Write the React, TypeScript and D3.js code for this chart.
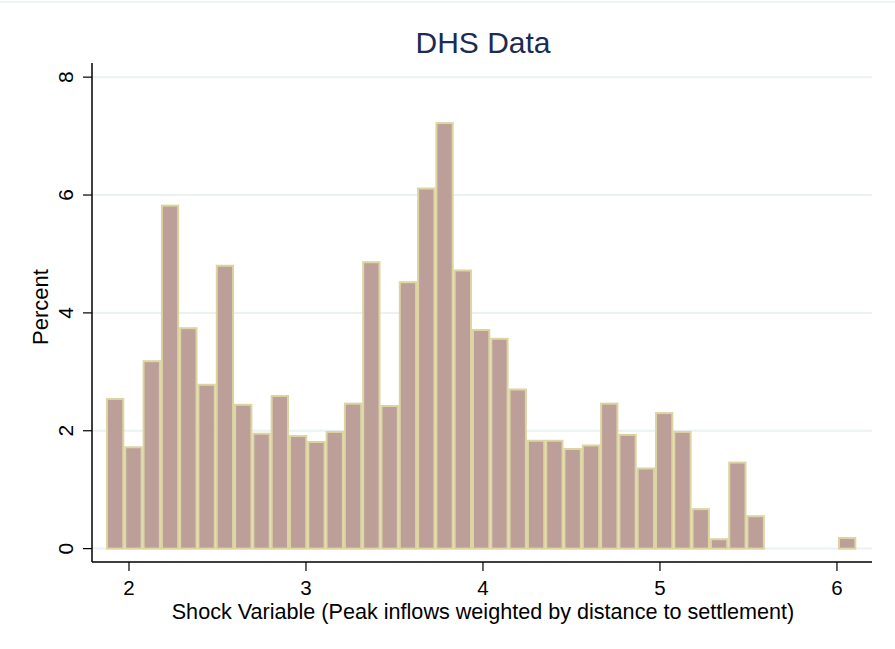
import React from "react";
import * as d3 from "d3";

// ---- Data ----
const title = "DHS Data";
const xTitle = "Shock Variable (Peak inflows weighted by distance to settlement)";
const yTitle = "Percent";
const binStart = 1.87;
const binWidth = 0.1034;
const percents = [
  2.54, 1.72, 3.18, 5.82, 3.74, 2.78, 4.8, 2.44, 1.95, 2.59,
  1.91, 1.81, 1.98, 2.46, 4.86, 2.42, 4.52, 6.11, 7.22, 4.72,
  3.71, 3.56, 2.7, 1.83, 1.83, 1.69, 1.75, 2.46, 1.93, 1.36,
  2.3, 1.98, 0.67, 0.16, 1.46, 0.55, 0, 0, 0, 0,
  0.18,
];
const xTicks = [2, 3, 4, 5, 6];
const yTicks = [0, 2, 4, 6, 8];

const W = 895;
const H = 649;
const FONT = "'Liberation Sans', Arial, Helvetica, sans-serif";

export default function App() {
  const left = 92, right = 872, top = 63, bottom = 562;
  const x = d3.scaleLinear().domain([1.791, 6.198]).range([left, right]);
  const y = d3.scaleLinear().domain([-0.227, 8.24]).range([bottom, top]);

  const bins = percents.map((p, i) => ({
    x0: binStart + i * binWidth,
    x1: binStart + (i + 1) * binWidth,
    p,
  }));

  return (
    <svg
      width={W}
      height={H}
      viewBox={`0 0 ${W} ${H}`}
      style={{ position: "absolute", left: 0, top: 0, background: "#ffffff" }}
      fontFamily={FONT}
    >
      <rect x={0} y={0} width={W} height={H} fill="#ffffff" />
      <line x1={0} x2={W} y1={2} y2={2} stroke="#eef3f4" strokeWidth={2} />

      {/* gridlines */}
      {yTicks.map((t) => (
        <line
          key={"g" + t}
          x1={left}
          x2={right}
          y1={y(t)}
          y2={y(t)}
          stroke="#eaf2f3"
          strokeWidth={2}
        />
      ))}

      {/* bars */}
      {bins
        .filter((b) => b.p > 0)
        .map((b, i) => {
          const x0 = x(b.x0);
          const x1 = x(b.x1);
          const yt = y(b.p);
          const yb = y(0);
          return (
            <rect
              key={"b" + i}
              x={x0 + 1}
              y={yt}
              width={x1 - x0 - 2}
              height={yb - yt}
              fill="#bd9f99"
              stroke="#dcd5a1"
              strokeWidth={2}
            />
          );
        })}

      {/* y axis */}
      <line x1={left} x2={left} y1={top} y2={bottom} stroke="#000" strokeWidth={1.5} />
      {yTicks.map((t) => (
        <g key={"yt" + t}>
          <line x1={left - 9} x2={left} y1={y(t)} y2={y(t)} stroke="#000" strokeWidth={1.2} />
          <text
            transform={`translate(73,${y(t)}) rotate(-90)`}
            textAnchor="middle"
            fontSize={21}
            fill="#000"
          >
            {t}
          </text>
        </g>
      ))}
      <text
        transform={`translate(48,307) rotate(-90)`}
        textAnchor="middle"
        fontSize={22}
        fill="#000"
      >
        {yTitle}
      </text>

      {/* x axis */}
      <line x1={left} x2={right} y1={bottom} y2={bottom} stroke="#000" strokeWidth={1.5} />
      {xTicks.map((t) => (
        <g key={"xt" + t}>
          <line x1={x(t)} x2={x(t)} y1={bottom} y2={bottom + 9} stroke="#000" strokeWidth={1.2} />
          <text x={x(t)} y={594.5} textAnchor="middle" fontSize={20.5} fill="#000">
            {t}
          </text>
        </g>
      ))}
      <text x={483} y={619} textAnchor="middle" fontSize={21.6} fill="#000">
        {xTitle}
      </text>

      {/* title */}
      <text x={483} y={53} textAnchor="middle" fontSize={30} fill="#1c2b52">
        {title}
      </text>
    </svg>
  );
}
